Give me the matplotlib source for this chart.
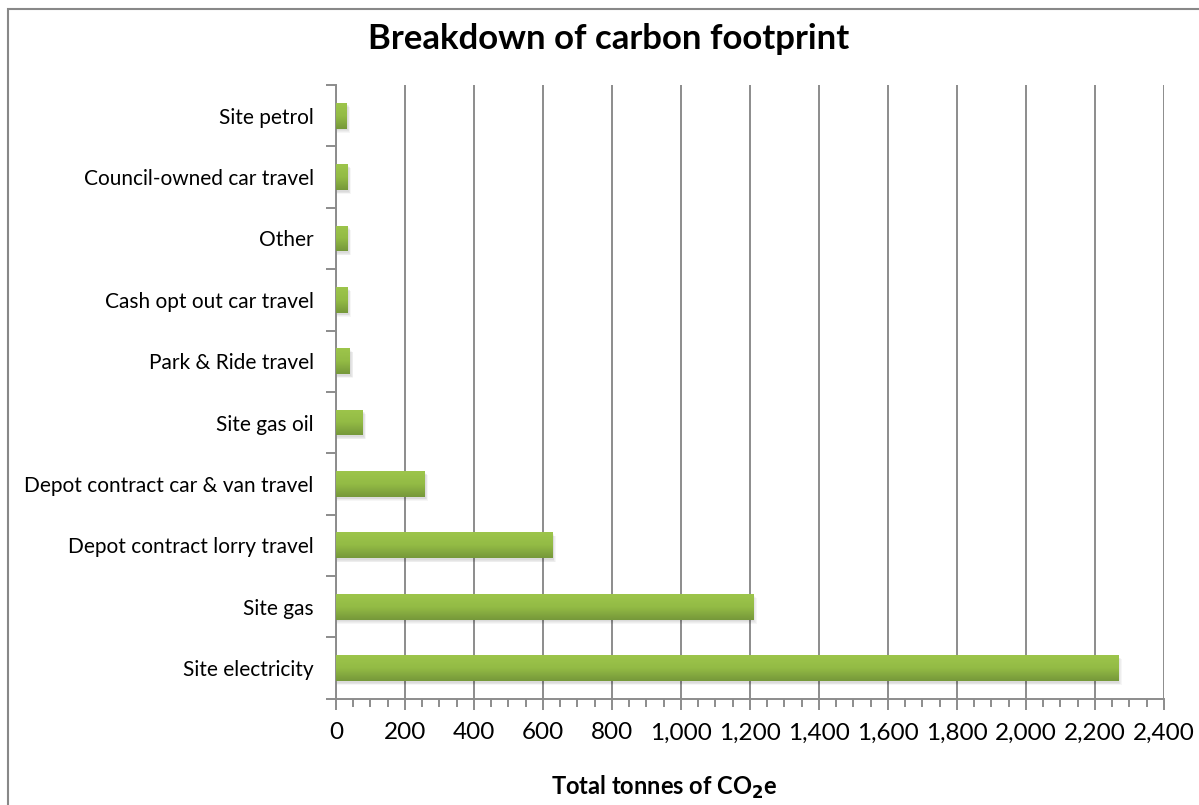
import numpy as np
import matplotlib.pyplot as plt
from matplotlib.patches import Rectangle
from matplotlib.ticker import FuncFormatter, MultipleLocator
from matplotlib.colors import LinearSegmentedColormap

plt.rcParams['font.family'] = ['Lato', 'DejaVu Sans']

categories = ['Site electricity', 'Site gas', 'Depot contract lorry travel',
              'Depot contract car & van travel', 'Site gas oil', 'Park & Ride travel',
              'Cash opt out car travel', 'Other', 'Council-owned car travel', 'Site petrol']
tonnes = [2267, 1209, 627, 257, 77, 40, 34, 34, 34, 31]

fig = plt.figure(figsize=(11.99, 8.05), dpi=100)
ax = fig.add_axes([0.2802, 0.132, 0.6906, 0.7624])

# outer chart border
fig.patches.append(Rectangle((8 / 1199, -0.1), 1.2, 1 - 9 / 805 + 0.1,
                             transform=fig.transFigure, fill=False,
                             edgecolor='#888888', linewidth=1.5))

y = np.arange(len(categories))
h = 0.42
green = LinearSegmentedColormap.from_list('g', ['#9dc54b', '#93bb45', '#76983a'])
grad = np.linspace(0, 1, 64).reshape(-1, 1)

# soft shadow below the bars
for yi, v in zip(y, tonnes):
    for k in range(4):
        ax.barh(yi - 0.03 - k * 0.012, v + 4 + k * 2, height=h, left=0,
                color='#000000', alpha=0.035, zorder=2, linewidth=0)

bars = ax.barh(y, tonnes, height=h, color='none', zorder=3, linewidth=0)
for b in bars:
    x0, y0 = b.get_x(), b.get_y()
    im = ax.imshow(grad, cmap=green, aspect='auto', zorder=3,
                   extent=[x0, x0 + b.get_width(), y0, y0 + b.get_height()],
                   origin='upper', interpolation='bicubic')
    im.set_clip_path(b)

ax.set_xlim(0, 2400)
ax.set_ylim(-0.5, len(categories) - 0.5)

ax.xaxis.set_major_locator(MultipleLocator(200))
ax.xaxis.set_minor_locator(MultipleLocator(50))
ax.xaxis.set_major_formatter(FuncFormatter(lambda v, p: f'{int(v):,}'))
ax.grid(axis='x', color='#8c8c8c', linewidth=1.4, zorder=1)
ax.set_axisbelow(True)

ax.set_yticks(y)
ax.set_yticklabels(categories)
ax.set_yticks(np.arange(-0.5, len(categories), 1), minor=True)
ax.tick_params(axis='y', which='major', length=0, pad=16, labelsize=15)
ax.tick_params(axis='y', which='minor', length=7, width=1.4, color='#8c8c8c')
ax.tick_params(axis='x', which='major', length=8, width=1.4, color='#8c8c8c',
               labelsize=17.5, pad=9)
ax.tick_params(axis='x', which='minor', length=6, width=1.4, color='#8c8c8c')

for s in ['top', 'right']:
    ax.spines[s].set_visible(False)
for s in ['left', 'bottom']:
    ax.spines[s].set_color('#8c8c8c')
    ax.spines[s].set_linewidth(1.4)

fig.text(664 / 1199, 1 - 787 / 805, 'Total tonnes of CO$_\\mathbf{2}$e', fontsize=17,
         fontweight='bold', ha='center', va='center')
fig.text(0.508, 0.952, 'Breakdown of carbon footprint', fontsize=25,
         fontweight='bold', ha='center', va='center')

fig.savefig('out.png', dpi=100)
